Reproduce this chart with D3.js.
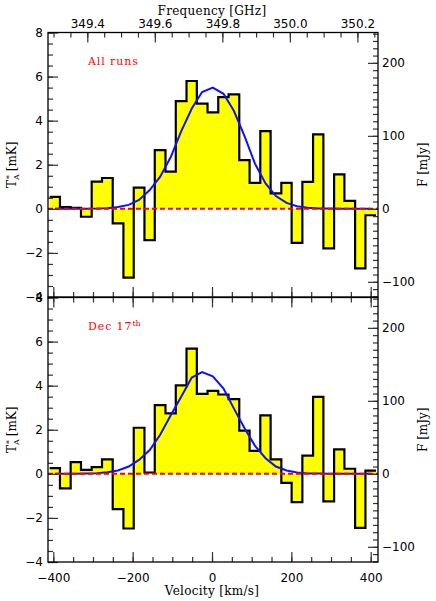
<html>
<head>
  <meta charset="utf-8">
  <title>Spectrum</title>
  <script src="https://d3js.org/d3.v7.min.js"></script>
  <style>
    body { margin: 0; background: #fff; }
    .tick text { font-family: "DejaVu Sans", sans-serif; font-size: 12px; fill: #000; }
    .tick line { stroke: #333; stroke-width: 1.2; }
    .title { font-family: "DejaVu Serif", serif; font-size: 12px; fill: #000; }
  </style>
</head>
<body>
<div id="vis"></div>
<script>

// channel centres [km/s]
var velocity = [-396, -370, -343, -317, -290, -264, -237, -210, -184, -157, -131,
                -104, -78, -51, -25, 2, 29, 55, 82, 108, 135, 161, 188, 214, 241,
                268, 294, 321, 347, 374, 400];
var chanWidth = 26.55;

// T*A [mK], all runs
var allRuns = [0.54, 0.08, 0.05, -0.36, 1.23, 1.40, -0.66, -3.12, 0.96, -1.42, 2.66,
               1.69, 4.89, 5.80, 4.77, 4.38, 5.07, 5.19, 2.21, 1.18, 3.53, 0.70,
               1.18, -1.54, 1.22, 3.38, -1.79, 1.56, 0.36, -2.70, -0.29];
var allRunsFit = [0, 0, 0, 0, 0.01, 0.03, 0.08, 0.18, 0.40, 0.85, 1.45, 2.35, 3.50,
                  4.55, 5.30, 5.50, 5.22, 4.45, 3.30, 2.06, 1.15, 0.58, 0.27, 0.12,
                  0.05, 0.02, 0.01, 0, 0, 0, 0];

// T*A [mK], Dec 17th
var dec17 = [0.26, -0.66, 0.53, 0.18, 0.30, 0.66, -1.60, -2.48, 2.09, 0.06, 3.12,
             2.74, 4.01, 5.68, 3.63, 3.76, 3.60, 3.39, 1.96, 1.04, 2.65, 0.66,
             -0.41, -1.28, 0.83, 3.49, -1.25, 1.11, 0.23, -2.45, 0.15];
var dec17Fit = [0, 0, 0, 0.01, 0.03, 0.07, 0.15, 0.33, 0.63, 1.08, 1.76, 2.66, 3.49,
                4.37, 4.62, 4.42, 3.87, 2.97, 2.07, 1.28, 0.71, 0.33, 0.15, 0.06,
                0.02, 0.01, 0, 0, 0, 0, 0];

var mKTicks = [-4, -2, 0, 2, 4, 6, 8];
var mJyTicks = [-100, 0, 100, 200];
var velTicks = [-400, -200, 0, 200, 400];
var freqTicks = [349.4, 349.6, 349.8, 350.0, 350.2];
var mJyPerMK = 30.2;

var W = 436, H = 601;
var left = 48, right = 378;

var svg = d3.select('#vis').append('svg')
    .attr('width', W).attr('height', H);

var x = d3.scaleLinear().domain([-413.4, 418.4]).range([left, right]);
var freq = d3.scaleLinear().domain([349.2836, 350.261]).range([left, right]);

var panels = [
  {top: 32.5, bottom: 297, data: allRuns, fit: allRunsFit, label: 'All runs', sup: ''},
  {top: 297.5, bottom: 562, data: dec17, fit: dec17Fit, label: 'Dec 17', sup: 'th'}
];

panels.forEach(function(p, i) {
  var y = d3.scaleLinear().domain([-4, 8]).range([p.bottom, p.top]);
  var yr = d3.scaleLinear().domain([-4 * mJyPerMK, 8 * mJyPerMK]).range([p.bottom, p.top]);
  var g = svg.append('g');

  var clipId = 'clip' + i;
  svg.append('clipPath').attr('id', clipId)
    .append('rect').attr('x', left).attr('y', p.top)
    .attr('width', right - left).attr('height', p.bottom - p.top);

  var plot = g.append('g').attr('clip-path', 'url(#' + clipId + ')');

  // step histogram points (left edges + final right edge)
  var pts = p.data.map(function(d, k) { return [velocity[k] - chanWidth / 2, d]; });
  pts.push([velocity[velocity.length - 1] + chanWidth / 2, p.data[p.data.length - 1]]);

  plot.append('path')
    .datum(pts)
    .attr('fill', '#ffff00')
    .attr('d', d3.area().curve(d3.curveStepAfter)
      .x(function(d) { return x(d[0]); })
      .y0(y(0))
      .y1(function(d) { return y(d[1]); }));

  plot.append('path')
    .datum(pts)
    .attr('fill', 'none')
    .attr('stroke', '#000')
    .attr('stroke-width', 2.2)
    .attr('d', d3.line().curve(d3.curveStepAfter)
      .x(function(d) { return x(d[0]); })
      .y(function(d) { return y(d[1]); }));

  // gaussian fit
  plot.append('path')
    .datum(p.fit)
    .attr('fill', 'none')
    .attr('stroke', '#1010ff')
    .attr('stroke-width', 2)
    .attr('d', d3.line()
      .x(function(d, k) { return x(velocity[k]); })
      .y(function(d) { return y(d); }));

  // zero line
  plot.append('line')
    .attr('x1', left).attr('x2', right)
    .attr('y1', y(0)).attr('y2', y(0))
    .attr('stroke', '#ff0000')
    .attr('stroke-width', 2)
    .attr('stroke-dasharray', '5,3');

  // left axis
  g.append('g').attr('transform', 'translate(' + left + ',0)')
    .call(d3.axisLeft(y).tickValues(d3.range(-4, 8.01, 0.5)).tickSize(-5).tickFormat(''));
  g.append('g').attr('transform', 'translate(' + left + ',0)')
    .call(d3.axisLeft(y).tickValues(mKTicks).tickSize(-10).tickPadding(5));

  // right axis
  g.append('g').attr('transform', 'translate(' + right + ',0)')
    .call(d3.axisRight(yr).tickValues(d3.range(-120, 241, 10)).tickSize(-5).tickFormat(''));
  g.append('g').attr('transform', 'translate(' + right + ',0)')
    .call(d3.axisRight(yr).tickValues(mJyTicks).tickSize(-10).tickPadding(4));

  // bottom velocity axis
  g.append('g').attr('transform', 'translate(0,' + p.bottom + ')')
    .call(d3.axisBottom(x).tickValues(d3.range(-400, 401, 50)).tickSize(-5).tickFormat(''));
  var xbm = g.append('g').attr('transform', 'translate(0,' + p.bottom + ')')
    .call(d3.axisBottom(x).tickValues(velTicks).tickSize(-10).tickPadding(11));
  if (i === 0) xbm.selectAll('text').remove();

  // top axis
  if (i === 0) {
    g.append('g').attr('transform', 'translate(0,' + p.top + ')')
      .call(d3.axisTop(freq).tickValues(d3.range(349.3, 350.26, 0.05)).tickSize(-5).tickFormat(''));
    g.append('g').attr('transform', 'translate(0,' + p.top + ')')
      .call(d3.axisTop(freq).tickValues(freqTicks).tickSize(-10).tickPadding(5)
        .tickFormat(d3.format('.1f')));
  } else {
    g.append('g').attr('transform', 'translate(0,' + p.top + ')')
      .call(d3.axisTop(x).tickValues(d3.range(-400, 401, 50)).tickSize(-5).tickFormat(''));
    g.append('g').attr('transform', 'translate(0,' + p.top + ')')
      .call(d3.axisTop(x).tickValues(velTicks).tickSize(-10).tickFormat(''));
  }

  g.selectAll('.domain').remove();

  // frame
  g.append('rect')
    .attr('x', left).attr('y', p.top)
    .attr('width', right - left).attr('height', p.bottom - p.top)
    .attr('fill', 'none').attr('stroke', '#000').attr('stroke-width', 1.3);

  // panel label
  var t = g.append('text')
    .attr('x', 88).attr('y', p.top + 32)
    .attr('font-family', 'DejaVu Serif, serif')
    .attr('font-size', 11)
    .attr('letter-spacing', 0.9)
    .attr('fill', '#ff0000')
    .text(p.label);
  if (p.sup) {
    t.append('tspan').attr('dy', -4).attr('font-size', 8).attr('letter-spacing', 0).text(p.sup);
  }

  // y titles
  var cy = (p.top + p.bottom) / 2;
  var yl = g.append('text')
    .attr('class', 'title')
    .attr('transform', 'translate(16,' + cy + ') rotate(-90)')
    .attr('text-anchor', 'middle');
  yl.append('tspan').text('T');
  yl.append('tspan').attr('font-size', 8).attr('dy', 3).text('A');
  yl.append('tspan').attr('font-size', 8).attr('dx', -5).attr('dy', -7).text('*');
  yl.append('tspan').attr('dy', 4).text(' [mK]');

  g.append('text')
    .attr('class', 'title')
    .attr('transform', 'translate(427,' + cy + ') rotate(-90)')
    .attr('text-anchor', 'middle')
    .text('F [mJy]');
});

svg.append('text')
  .attr('class', 'title')
  .attr('x', (left + right) / 2 - 1).attr('y', 15)
  .attr('text-anchor', 'middle')
  .attr('letter-spacing', 0.3)
  .text('Frequency [GHz]');

svg.append('text')
  .attr('class', 'title')
  .attr('x', (left + right) / 2 - 1).attr('y', 595)
  .attr('text-anchor', 'middle')
  .attr('letter-spacing', 0.3)
  .text('Velocity [km/s]');

</script>
</body>
</html>
